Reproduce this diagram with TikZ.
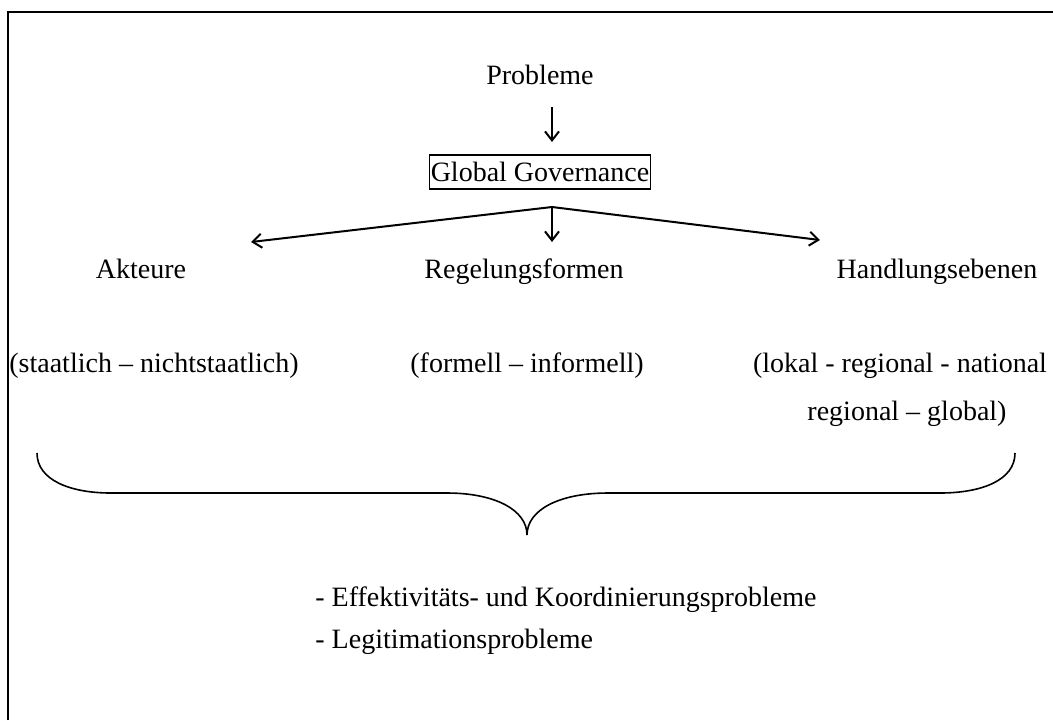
\documentclass[tikz,border=0pt]{standalone}
\usepackage{fontspec}
\setmainfont{Liberation Serif}
\usetikzlibrary{arrows.meta}

\begin{document}
\begin{tikzpicture}[x=0.5pt, y=-0.5pt, font=\fontsize{14pt}{17pt}\selectfont]
\useasboundingbox (0,0) rectangle (1053,720);
% styles
\tikzset{arr/.style={-{Straight Barb[length=4.5pt, width=7pt]}, line width=1pt},
         ggbox/.style={draw, line width=0.6pt, inner xsep=0.5pt, minimum height=17pt},
         lbl/.style={inner sep=0pt, anchor=base}}
% ---- frame (cut at right and bottom)
\draw[line width=1.2pt] (8,720) -- (8,12) -- (1053,12);

% ---- top
\node[lbl] (probleme) at (540,84) {Probleme};
\node[ggbox] (gg) at (540,172) {Global Governance};
\coordinate (ptop) at (552,107);
\coordinate (pbot) at (552,142);
\draw[arr] (ptop) -- (pbot);
\coordinate (apex) at (552,207);
\coordinate (tipL) at (251,242);
\coordinate (tipM) at (552,242);
\coordinate (tipR) at (820,240);
\draw[arr] (apex) -- (tipL);
\draw[arr] (apex) -- (tipM);
\draw[arr] (apex) -- (tipR);

% ---- three columns
\node[lbl] (akteure) at (141,278) {Akteure};
\node[lbl] (regelung) at (524,278) {Regelungsformen};
\node[lbl] (ebenen) at (937,278) {Handlungsebenen};
\node[lbl] (staat) at (154,372) {(staatlich -- nichtstaatlich)};
\node[lbl] (formell) at (527,372) {(formell -- informell)};
\node[lbl] (lokal) at (900,372) {(lokal - regional - national};
\node[lbl] (global) at (907,420) {regional -- global)};

% ---- brace
\draw[line width=0.8pt] (37,453) .. controls (37,480) and (70,493) .. (111,493) -- (447,493)
  .. controls (495,493) and (527,510) .. (527,535)
  .. controls (527,510) and (559,493) .. (608,493) -- (940,493)
  .. controls (982,493) and (1015,480) .. (1015,453);

% ---- problems
\node[lbl, anchor=base west] (effekt) at (315,606) {- Effektivitäts- und Koordinierungsprobleme};
\node[lbl, anchor=base west] (legit) at (315,648) {- Legitimationsprobleme};
\end{tikzpicture}
\end{document}
